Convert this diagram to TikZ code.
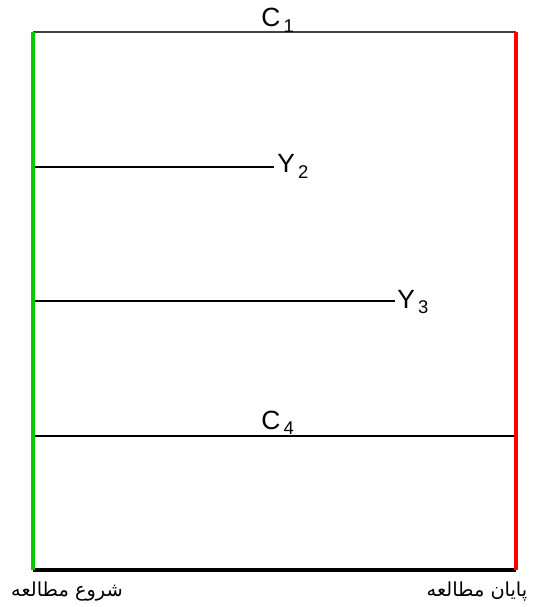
\documentclass[tikz,border=0pt]{standalone}
\usepackage{fontspec}
\setmainfont{Liberation Sans}
\newfontfamily\farsifont[Script=Arabic]{DejaVu Sans}
\TeXXeTstate=1
\usetikzlibrary{positioning}

\definecolor{startgreen}{RGB}{0,204,0}
\definecolor{endred}{RGB}{255,0,0}
\definecolor{topgray}{RGB}{64,64,64}

% label with lowered index, as C 1 / Y 2
\newcommand{\grp}[2]{#1\kern1.8pt\raisebox{-3pt}{\fontsize{10.5}{12}\selectfont #2}}

\tikzset{
  follow/.style={line width=0.6pt, black},
  edgeline/.style={line width=2pt},
  grplabel/.style={font=\fontsize{15}{17}\selectfont, inner sep=0pt, anchor=base west},
  farsilabel/.style={font=\farsifont\fontsize{11}{13}\selectfont, inner sep=0pt, anchor=base},
}

\begin{document}
\begin{tikzpicture}[x=0.02cm, y=-0.02cm]
  \useasboundingbox (0,0) rectangle (532,607);
  % corners of the study frame
  \coordinate (tl) at (33,32);
  \coordinate (tr) at (516,32);
  \coordinate (bl) at (33,570);
  \coordinate (br) at (516,570);
  % ends of the follow-up lines
  \coordinate (y2s) at (33,167);
  \coordinate (y2e) at (274,167);
  \coordinate (y3s) at (33,301);
  \coordinate (y3e) at (395,301);
  \coordinate (c4s) at (33,436);
  \coordinate (c4e) at (516,436);

  \draw[line width=0.6pt, topgray] (tl) -- (tr);
  \draw[follow] (y2s) -- (y2e);
  \draw[follow] (y3s) -- (y3e);
  \draw[follow] (c4s) -- (c4e);
  \draw[edgeline, black] (bl) -- (br);
  \draw[edgeline, startgreen] (bl) -- (tl);
  \draw[edgeline, endred] (br) -- (tr);

  % labels
  \node[grplabel] (c1) at (261,27) {\grp{C}{1}};
  \node[grplabel] (y2) at (277,173) {\grp{Y}{2}};
  \node[grplabel] (y3) at (397,308) {\grp{Y}{3}};
  \node[grplabel] (c4) at (261,429) {\grp{C}{4}};
  \node[farsilabel] (start) at (67,596) {\beginR شروع مطالعه\endR};
  \node[farsilabel] (end) at (477,596) {\beginR پایان مطالعه\endR};
\end{tikzpicture}
\end{document}
